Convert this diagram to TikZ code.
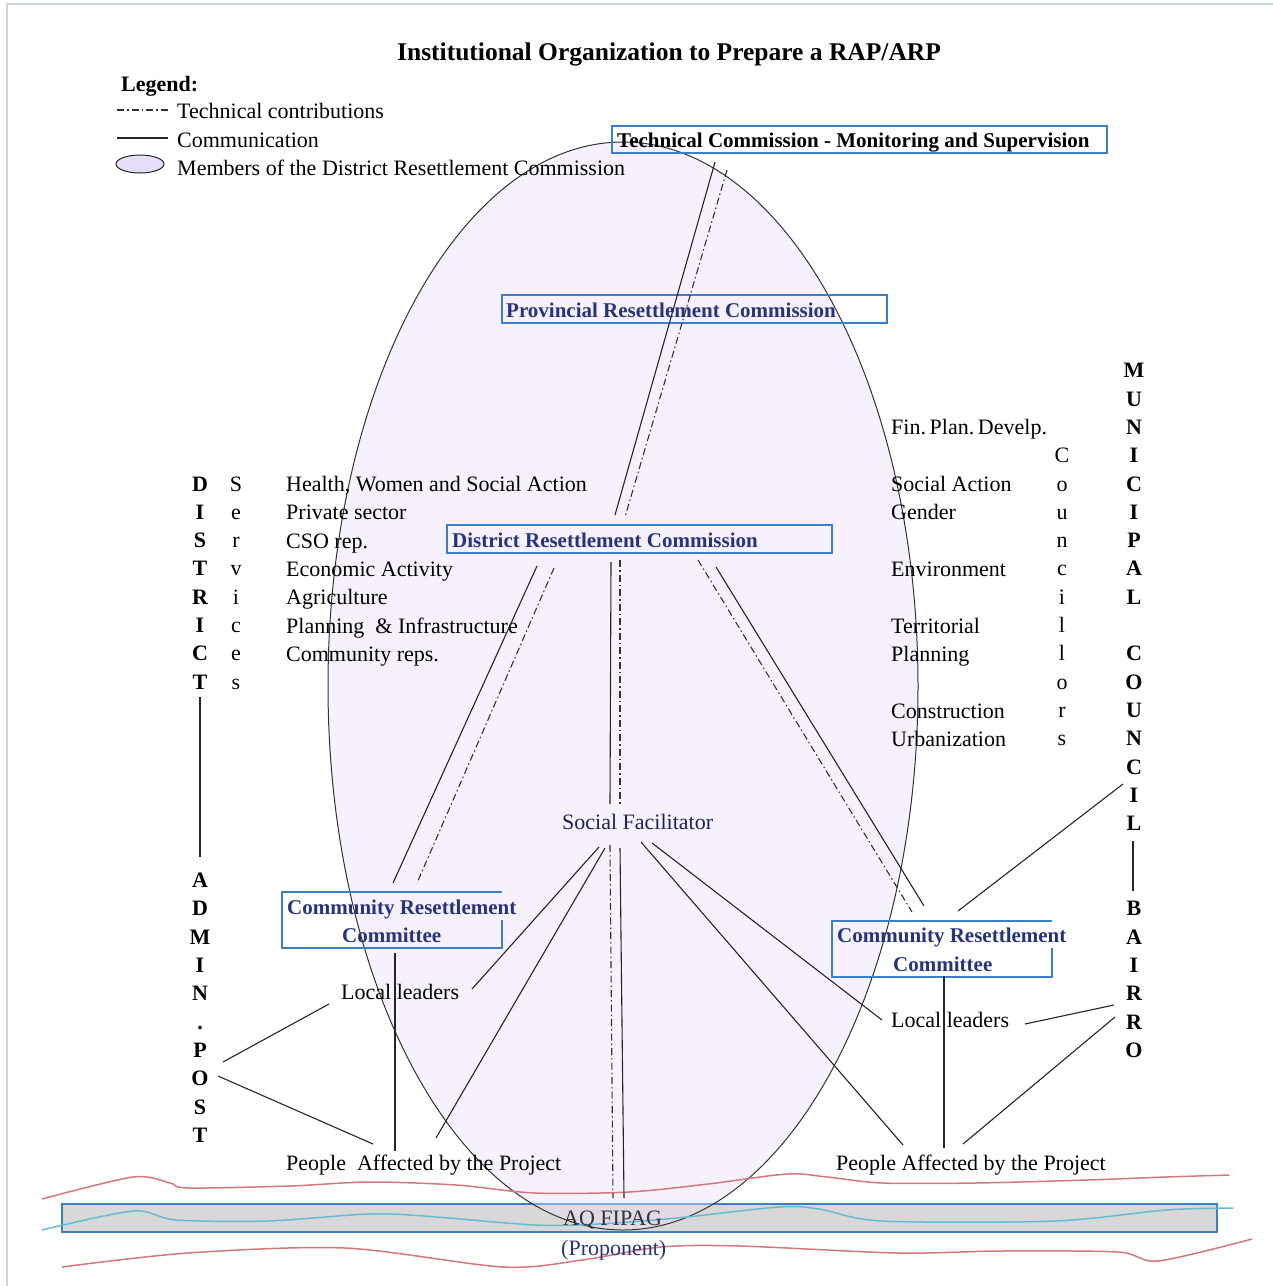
\documentclass[tikz,border=0pt]{standalone}
\usepackage{fontspec}
\setmainfont{Liberation Serif}
\usetikzlibrary{shapes.geometric}
\newcommand\fsn{\fontsize{22}{26}\selectfont}
\newcommand\fsb{\fontsize{21}{25}\selectfont}
\newcommand\fst{\fontsize{25.5}{30}\selectfont}
\definecolor{navy}{RGB}{38,52,128}
\definecolor{boxblue}{RGB}{58,128,200}
\definecolor{lav}{RGB}{235,222,250}
\definecolor{lavleg}{RGB}{232,221,248}
\definecolor{wred}{RGB}{212,120,120}
\definecolor{wcyan}{RGB}{100,188,212}
\definecolor{frame}{RGB}{205,214,226}
\begin{document}
\begin{tikzpicture}[x=1pt,y=-1pt,
  txt/.style={inner sep=0pt, anchor=base west, font=\fsn, yshift=-1.5pt},
  btxt/.style={inner sep=0pt, anchor=base west, font=\fsb\bfseries, text=navy, yshift=-1.5pt},
  vlet/.style={inner sep=0pt, anchor=base, font=\fsn, yshift=-1pt},
  comm/.style={line width=1.1pt, draw=black!85},
  techl/.style={line width=1.1pt, draw=black!80, dash pattern=on 7pt off 3pt on 1.5pt off 3pt},
  boxl/.style={line width=1.2pt, draw=boxblue},
  wave/.style={line width=1.5pt, smooth, tension=0.5}]
\useasboundingbox (0,0) rectangle (1273,1286);
\fill[white] (0,0) rectangle (1273,1286);
\draw[frame, line width=1.5pt] (7,1286) -- (7,4) -- (1273,4);

% bottom band
\draw[boxblue, line width=1.2pt, fill={rgb,255:red,216;green,216;blue,216}] (62,1204) rectangle (1217,1232);

% big ellipse
\fill[lav, fill opacity=0.4] (623,686) ellipse [x radius=295, y radius=544];
\draw[black!80, line width=1pt] (623,686) ellipse [x radius=295, y radius=544];

% wavy lines
\draw[wred, wave] plot coordinates {(42,1199) (133,1177) (170,1183) (188,1188) (290,1186) (369,1182) (456,1185) (535,1193) (629,1192) (708,1184) (787,1174) (827,1177) (882,1183) (976,1183) (1087,1180) (1166,1177) (1229,1175)};
\draw[wcyan, wave] plot coordinates {(42,1230) (133,1211) (176,1220) (267,1221) (369,1214) (424,1216) (535,1225) (598,1224) (677,1218) (779,1207) (819,1209) (882,1221) (1055,1221) (1166,1210) (1233,1208)};
\draw[wred, wave] plot coordinates {(62,1267) (188,1253) (345,1248) (503,1267) (582,1260) (661,1247) (740,1246) (898,1253) (1000,1251) (1118,1252) (1158,1261) (1252,1239)};

% title and legend
\node[inner sep=0pt, anchor=base west, font=\fst\bfseries] (title) at (397,60) {Institutional Organization to Prepare a RAP/ARP};
\node[txt, font=\fsn\bfseries] (legend) at (121,90) {Legend:};
\coordinate (lgA1) at (117,110); \coordinate (lgA2) at (168,110);
\coordinate (lgB1) at (117,138); \coordinate (lgB2) at (168,138);
\draw[techl] (lgA1) -- (lgA2);
\draw[comm] (lgB1) -- (lgB2);
\node[txt] (lgtech) at (177,117) {Technical contributions};
\node[txt] (lgcomm) at (177,146) {Communication};
\node[draw=black!85, line width=1pt, fill=lavleg, ellipse, inner sep=0pt, minimum width=48pt, minimum height=18pt] (lgell) at (140,164) {};
\node[txt] (lgmem) at (177,174) {Members of the District Resettlement Commission};

% boxes
\draw[boxl] (612,126) rectangle (1107,153);
\node[btxt, text=black] (techc) at (617,146) {Technical Commission - Monitoring and Supervision};
\draw[boxl] (502,295) rectangle (887,323);
\node[btxt] (prov) at (506,316) {Provincial Resettlement Commission};
\draw[boxl] (447,525) rectangle (832,553);
\node[btxt] (distc) at (452,546) {District Resettlement Commission};
\draw[boxl] (502,920) -- (502,948) -- (282,948) -- (282,892) -- (502,892);
\node[btxt] (crcL1) at (287,913) {Community Resettlement};
\node[btxt] (crcL2) at (342,941) {Committee};
\draw[boxl] (1052,948) -- (1052,977) -- (832,977) -- (832,921) -- (1052,921);
\node[btxt] (crcR1) at (837,941) {Community Resettlement};
\node[btxt] (crcR2) at (893,970) {Committee};

% vertical letters
\foreach \l [count=\i from 0] in {D,I,S,T,R,I,C,T}
  \node[vlet, font=\fsn\bfseries] (dist\i) at (200,{490+28.33*\i}) {\l};
\foreach \l [count=\i from 0] in {S,e,r,v,i,c,e,s}
  \node[vlet] (serv\i) at (236,{490+28.33*\i}) {\l};
\foreach \l [count=\i from 14] in {A,D,M,I,N,.,P,O,S,T}
  \node[vlet, font=\fsn\bfseries] (adm\i) at (200,{490+28.33*\i}) {\l};
\foreach \l [count=\i from 0] in {M,U,N,I,C,I,P,A,L}
  \node[vlet, font=\fsn\bfseries] (mun\i) at (1134,{490+28.33*(\i-4)}) {\l};
\foreach \l [count=\i from 6] in {C,O,U,N,C,I,L}
  \node[vlet, font=\fsn\bfseries] (cou\i) at (1134,{490+28.33*\i}) {\l};
\foreach \l [count=\i from 15] in {B,A,I,R,R,O}
  \node[vlet, font=\fsn\bfseries] (bai\i) at (1134,{490+28.33*\i}) {\l};
\foreach \l [count=\i from 0] in {C,o,u,n,c,i,l,l,o,r,s}
  \node[vlet] (cnc\i) at (1062,{490+28.33*(\i-1)}) {\l};

% left list
\node[txt] (l0) at (286,490) {Health, Women and Social Action};
\node[txt] (l1) at (286,518.3) {Private sector};
\node[txt] (l2) at (286,546.7) {CSO rep.};
\node[txt] (l3) at (286,575) {Economic Activity};
\node[txt] (l4) at (286,603.3) {Agriculture};
\node[txt] (l5) at (286,631.7) {Planning \ \& Infrastructure};
\node[txt] (l6) at (286,660) {Community reps.};

% right list
\node[txt] (r0) at (891,433.3) {Fin.\,Plan.\,Develp.};
\node[txt] (r1) at (891,490) {Social Action};
\node[txt] (r2) at (891,518.3) {Gender};
\node[txt] (r3) at (891,575) {Environment};
\node[txt] (r4) at (891,631.7) {Territorial};
\node[txt] (r5) at (891,660) {Planning};
\node[txt] (r6) at (891,716.7) {Construction};
\node[txt] (r7) at (891,745) {Urbanization};

% other labels
\node[txt, text=navy!70!black] (sf) at (562,828) {Social Facilitator};
\node[txt] (llL) at (341,998) {Local leaders};
\node[txt] (llR) at (891,1026) {Local leaders};
\node[txt] (pL) at (286,1169) {People \ Affected by the Project};
\node[txt] (pR) at (836,1169) {People Affected by the Project};
\node[txt, text=black!80] (aq) at (563,1224) {AQ FIPAG};
\node[txt, text=navy] (prop) at (561,1254) {(Proponent)};

% connector end points
\coordinate (tcS) at (715,162); \coordinate (dcS) at (615,515);
\coordinate (tcT) at (727,170); \coordinate (dcT) at (625,517);
\coordinate (dlS) at (537,566); \coordinate (cLS) at (393,883);
\coordinate (dlT) at (554,568); \coordinate (cLT) at (417,883);
\coordinate (dvS) at (611,562); \coordinate (sfS) at (610,804);
\coordinate (dvT) at (620,560); \coordinate (sfT) at (620,805);
\coordinate (drS) at (716,567); \coordinate (cRS) at (924,906);
\coordinate (drT) at (698,560); \coordinate (cRT) at (912,912);
\coordinate (sf1) at (599,847); \coordinate (llLe) at (472,989);
\coordinate (sf2) at (605,848); \coordinate (pLe) at (436,1138);
\coordinate (sf3) at (610,845); \coordinate (aqT) at (613,1198);
\coordinate (sf4) at (620,848); \coordinate (aqS) at (624,1198);
\coordinate (sf5) at (641,842); \coordinate (pRe) at (903,1145);
\coordinate (sf6) at (652,843); \coordinate (llRe) at (882,1020);
\coordinate (cLb) at (395,953); \coordinate (pLv) at (395,1151);
\coordinate (ap1) at (223,1062); \coordinate (llLw) at (329,1004);
\coordinate (ap2) at (218,1076); \coordinate (pLw) at (373,1144);
\coordinate (dT) at (200,697); \coordinate (aA) at (200,857);
\coordinate (cnL) at (1123,784); \coordinate (cRu) at (958,911);
\coordinate (cnB) at (1133,841); \coordinate (bB) at (1133,891);
\coordinate (b1) at (1114,1005); \coordinate (llRw) at (1025,1024);
\coordinate (b2) at (1115,1017); \coordinate (pRw) at (963,1144);
\coordinate (cRb) at (944,976); \coordinate (pRv) at (944,1148);

% communication lines
\draw[comm] (tcS) -- (dcS);
\draw[comm] (dlS) -- (cLS);
\draw[comm] (dvS) -- (sfS);
\draw[comm] (drS) -- (cRS);
\draw[comm] (sf1) -- (llLe);
\draw[comm] (sf2) -- (pLe);
\draw[comm] (sf4) -- (aqS);
\draw[comm] (sf5) -- (pRe);
\draw[comm] (sf6) -- (llRe);
\draw[comm] (cLb) -- (pLv);
\draw[comm] (ap1) -- (llLw);
\draw[comm] (ap2) -- (pLw);
\draw[comm] (dT) -- (aA);
\draw[comm] (cnL) -- (cRu);
\draw[comm] (cnB) -- (bB);
\draw[comm] (b1) -- (llRw);
\draw[comm] (b2) -- (pRw);
\draw[comm] (cRb) -- (pRv);
% technical lines
\draw[techl] (tcT) -- (dcT);
\draw[techl] (dlT) -- (cLT);
\draw[techl] (dvT) -- (sfT);
\draw[techl] (drT) -- (cRT);
\draw[techl] (sf3) -- (aqT);
\end{tikzpicture}
\end{document}
